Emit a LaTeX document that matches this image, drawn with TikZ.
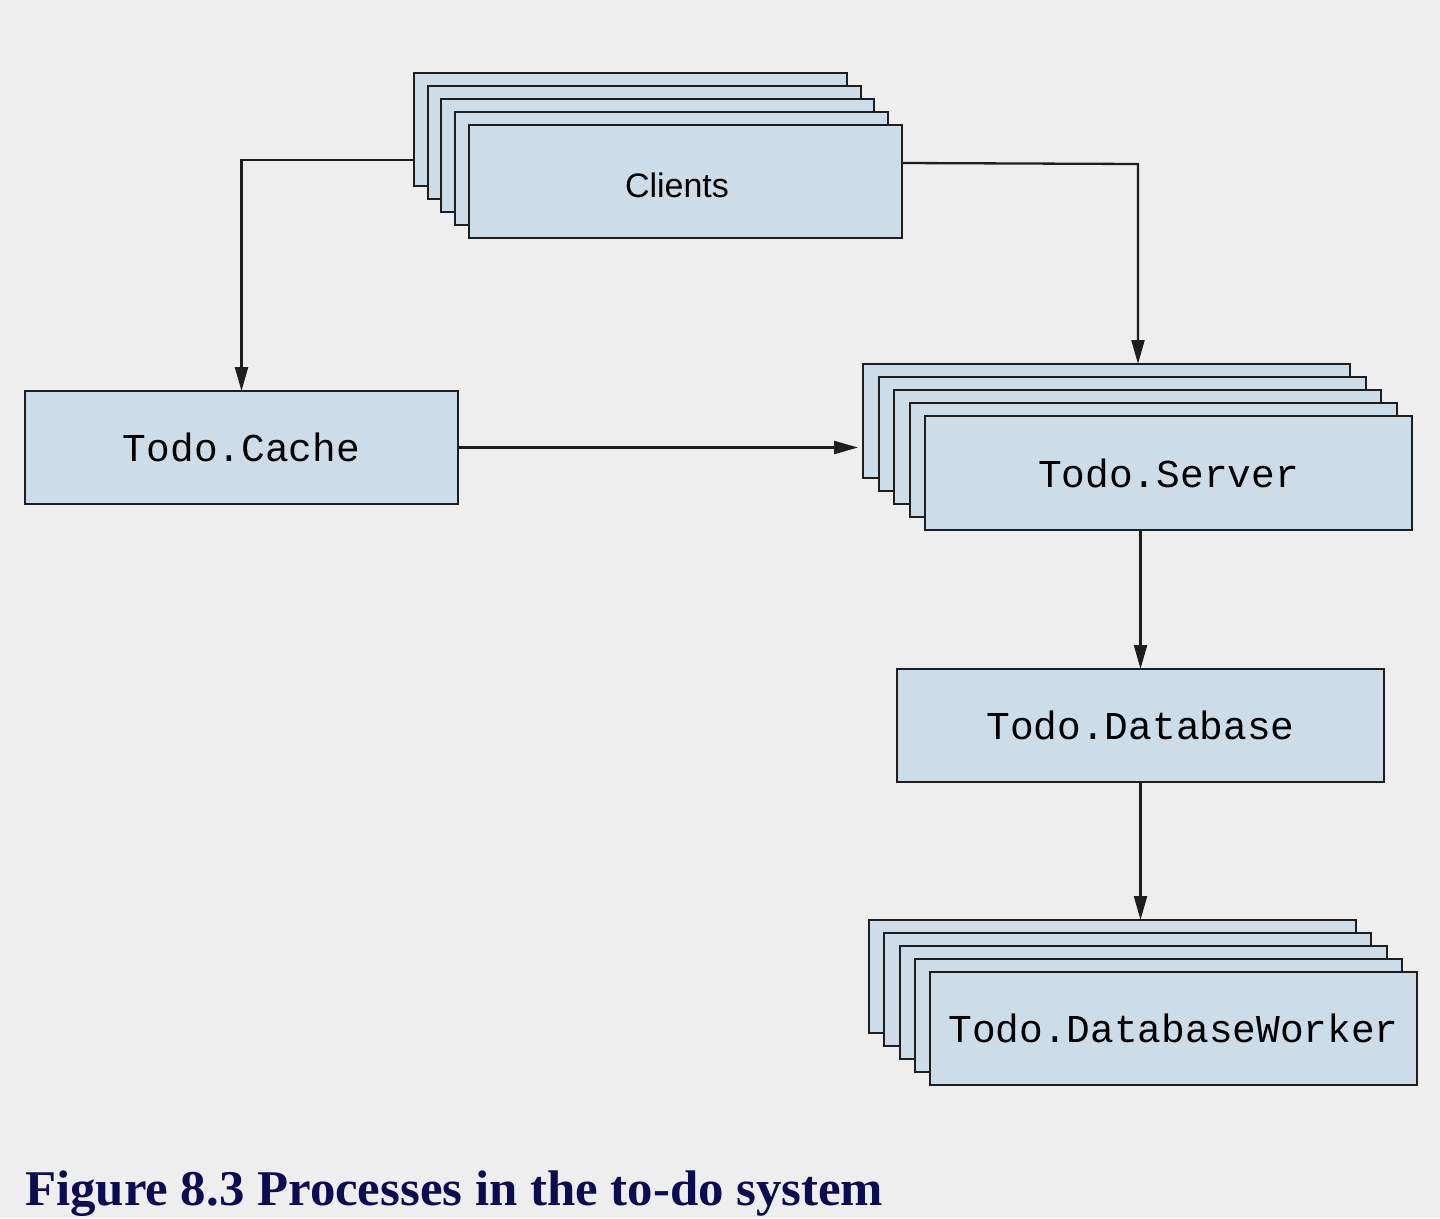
\documentclass[tikz,border=0pt]{standalone}
\usepackage{fontspec}
\usepackage{graphicx}
\setmainfont{Liberation Serif}
\newfontfamily\lblsans{Liberation Sans}
\newfontfamily\lblmono{Liberation Mono}
\usetikzlibrary{arrows.meta}
\definecolor{bgc}{HTML}{EEEEEE}
\definecolor{boxfill}{HTML}{CCDCE9}
\definecolor{boxline}{HTML}{1E1E1E}
\definecolor{capc}{HTML}{0C0C52}
\tikzset{
  procbox/.style={draw=boxline, fill=boxfill, line width=2.5pt, inner sep=0pt, outer sep=0pt, anchor=north west},
  monolbl/.style={font=\lblmono\fontsize{39.5pt}{40pt}\selectfont},
  sanslbl/.style={font=\lblsans\fontsize{34pt}{36pt}\selectfont},
  conn/.style={draw=boxline, line width=2.3pt, -{Triangle[length=24pt,width=13pt]}}
}
\begin{document}
\begin{tikzpicture}[x=1pt,y=-1pt]
\fill[bgc] (0,0) rectangle (1440,1218);
\useasboundingbox (0,0) rectangle (1440,1218);
% Clients stack
\node[procbox, minimum width=433pt, minimum height=113pt] (c1) at (414,73) {};
\node[procbox, minimum width=433pt, minimum height=113pt] (c2) at (428,86) {};
\node[procbox, minimum width=433pt, minimum height=113pt] (c3) at (441,99) {};
\node[procbox, minimum width=433pt, minimum height=113pt] (c4) at (455,112) {};
\node[procbox, minimum width=433pt, minimum height=113pt] (c5) at (469,125) {};
\node[sanslbl, inner sep=0pt] (clbl) at (677,185) {Clients};
% Cache
\node[procbox, minimum width=433pt, minimum height=113pt, monolbl] (cache) at (25,391) {Todo.Cache};
% Server stack
\node[procbox, minimum width=487pt, minimum height=114pt] (s1) at (863,364) {};
\node[procbox, minimum width=487pt, minimum height=114pt] (s2) at (879,377) {};
\node[procbox, minimum width=487pt, minimum height=114pt] (s3) at (894,390) {};
\node[procbox, minimum width=487pt, minimum height=114pt] (s4) at (910,403) {};
\node[procbox, minimum width=487pt, minimum height=114pt, monolbl] (s5) at (925,416) {Todo.Server};
% Database
\node[procbox, minimum width=487pt, minimum height=113pt, monolbl] (db) at (897,669) {Todo.Database};
% Worker stack
\node[procbox, minimum width=487pt, minimum height=113pt] (w1) at (869,920) {};
\node[procbox, minimum width=487pt, minimum height=113pt] (w2) at (884,933) {};
\node[procbox, minimum width=487pt, minimum height=113pt] (w3) at (900,946) {};
\node[procbox, minimum width=487pt, minimum height=113pt] (w4) at (915,959) {};
\node[procbox, minimum width=487pt, minimum height=113pt, monolbl] (w5) at (930,972) {Todo.DatabaseWorker};
% connectors
\coordinate (cl) at (c1.west |- 0,160);
\coordinate (cr) at (c5.east |- 0,163);
\coordinate (sx) at (1138,164);
\draw[conn] (cl) -| (cache.north);
\draw[conn] (cr) -- (sx) -- (sx |- s1.north);
\draw[conn, shorten >=5pt] (cache.east) -- (cache.east -| s1.west);
\draw[conn] (db.north |- s5.south) -- (db.north);
\draw[conn] (db.south) -- (db.south |- w1.north);
% caption
\node[anchor=base west, inner sep=0pt, text=capc] (cap) at (25,1205)
  {\resizebox{858pt}{\height}{\fontsize{50pt}{52pt}\selectfont\bfseries Figure 8.3 Processes in the to-do system}};
\end{tikzpicture}
\end{document}
